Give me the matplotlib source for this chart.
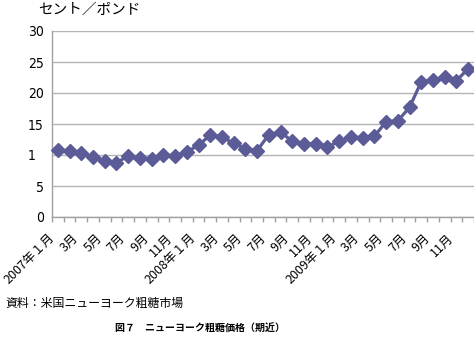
import matplotlib
matplotlib.use("Agg")
import matplotlib.pyplot as plt
from matplotlib.ticker import FixedLocator
from matplotlib.transforms import ScaledTranslation

plt.rcParams['font.family'] = ['Noto Sans CJK JP', 'DejaVu Sans']

# Data (Jan 2007 - Dec 2009, monthly, cents per pound)
months = ["2007年１月", "", "3月", "", "5月", "", "7月", "", "9月", "", "11月", "",
          "2008年１月", "", "3月", "", "5月", "", "7月", "", "9月", "", "11月", "",
          "2009年１月", "", "3月", "", "5月", "", "7月", "", "9月", "", "11月", ""]
prices = [10.8, 10.7, 10.3, 9.6, 9.0, 8.7, 9.9, 9.5, 9.4, 10.0, 9.9, 10.5,
          11.6, 13.2, 12.9, 11.9, 11.0, 10.7, 13.3, 13.7, 12.2, 11.8, 11.8, 11.3,
          12.2, 12.9, 12.8, 13.0, 15.4, 15.5, 17.7, 21.8, 22.1, 22.6, 22.0, 23.9]
y_ticks = [0, 5, 10, 15, 20, 25, 30]
y_tick_labels = ["0", "5", "1\u2007", "15", "20", "25", "30"]
y_label = "セント／ポンド"
source = "資料：米国ニューヨーク粗糖市場"
title = "図７　ニューヨーク粗糖価格（期近）"

W, H = 474, 347
fig = plt.figure(figsize=(W / 100, H / 100), dpi=100)
ax = fig.add_axes([52 / W, 130 / H, 422 / W, 186 / H])

x = list(range(len(prices)))
ax.plot(x, prices, color='#5B5B98', lw=2.3, marker='D', markersize=7,
        markeredgecolor='#5B5B98', zorder=3, clip_on=False)

ax.set_xlim(-0.5, len(prices) - 0.5)
ax.set_ylim(0, 30)
ax.set_yticks(y_ticks)
ax.set_yticklabels(y_tick_labels, fontsize=10, family=['DejaVu Sans'],
                   fontstretch='condensed')
ax.grid(axis='y', color='#B4B4B4', lw=1)
ax.set_axisbelow(True)

# category labels at centers, tick marks at boundaries
ax.set_xticks(x)
ax.set_xticklabels(months, rotation=45, ha='right', va='center',
                   rotation_mode='anchor', fontsize=9)
ax.tick_params(axis='x', which='major', length=0, pad=10)
shift = ScaledTranslation(-5 / 100, -5 / 100, fig.dpi_scale_trans)
for lab in ax.get_xticklabels():
    lab.set_transform(lab.get_transform() + shift)
ax.xaxis.set_minor_locator(FixedLocator([i - 0.5 for i in range(len(prices) + 1)]))
ax.tick_params(axis='x', which='minor', length=3.5, color='#A0A0A0', width=1)
ax.tick_params(axis='y', length=0, pad=6)

for s in ['top', 'right']:
    ax.spines[s].set_visible(False)
for s in ['left', 'bottom']:
    ax.spines[s].set_color('#A0A0A0')
    ax.spines[s].set_linewidth(1)

fig.text(38 / W, 1 - 10 / H, y_label, ha='left', va='center', fontsize=10.5)
fig.text(5 / W, 1 - 303 / H, source, ha='left', va='center', fontsize=8.6)
fig.text(200 / W, 1 - 329 / H, title, ha='center', va='center', fontsize=7.2,
         weight='bold')

fig.savefig('out.png', dpi=100)
